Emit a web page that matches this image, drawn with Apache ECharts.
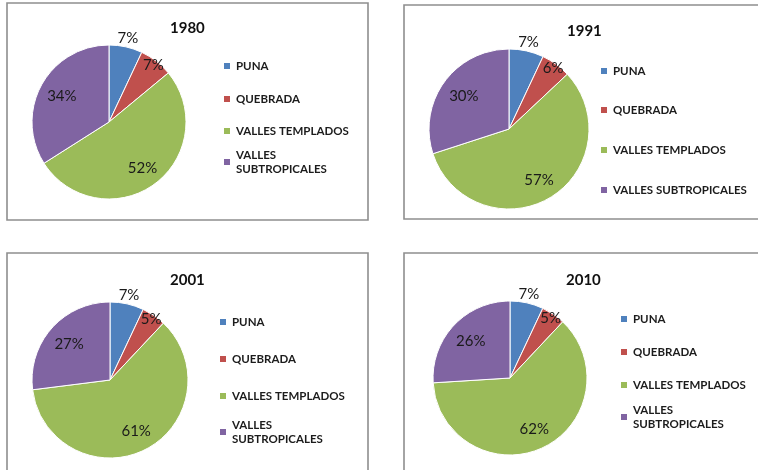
<!DOCTYPE html>
<html>
<head>
<meta charset="utf-8">
<script src="https://cdn.jsdelivr.net/npm/echarts@6/dist/echarts.min.js"></script>
<style>
html,body{margin:0;padding:0;background:#fff;}
#chart{width:758px;height:470px;}
</style>
</head>
<body>
<div id="chart"></div>
<script>
// ---- data ----
const categories = ['PUNA', 'QUEBRADA', 'VALLES TEMPLADOS', 'VALLES SUBTROPICALES'];
const years = ['1980', '1991', '2001', '2010'];
const values1980 = [7, 7, 52, 34];
const values1991 = [7, 6, 57, 30];
const values2001 = [7, 5, 61, 27];
const values2010 = [7, 5, 62, 26];
const allValues = [values1980, values1991, values2001, values2010];

// ---- styling / layout ----
const colors = ['#4F81BD', '#C0504D', '#9BBB59', '#8064A2'];
const FONT = 'Lato, "Open Sans", sans-serif';
const panels = [
  {cx: 109, cy: 122, r: 77, title: [170, 21], legX: 222, legY: [66, 99, 131, 162], wrap: true,
   box: [7, 3, 361, 217]},
  {cx: 509, cy: 129, r: 80, title: [567, 24], legX: 599, legY: [71, 110, 150, 190], wrap: false,
   box: [404, 5, 400, 214]},
  {cx: 110, cy: 380, r: 78, title: [170, 273], legX: 218, legY: [322, 359, 396, 432], wrap: true,
   box: [7, 253, 361, 260]},
  {cx: 510, cy: 378, r: 77, title: [566, 273], legX: 619, legY: [319, 352, 385, 417], wrap: true,
   box: [404, 253, 400, 260]}
];
// radial position (fraction of radius) of each category's percentage label
const labelRadius = [1.08, 0.9, 0.7, 0.66];

const series = [];
const titles = [];
const legends = [];
const graphics = [];

panels.forEach((p, i) => {
  const vals = allValues[i];
  series.push({
    type: 'pie', center: [p.cx, p.cy], radius: p.r, startAngle: 90, clockwise: true,
    silent: true, animation: false, avoidLabelOverlap: false,
    label: {show: false}, labelLine: {show: false},
    itemStyle: {borderColor: '#ffffff', borderWidth: 1},
    data: categories.map((c, k) => ({name: c, value: vals[k], itemStyle: {color: colors[k]}}))
  });
  titles.push({
    text: years[i], left: p.title[0], top: p.title[1], padding: 0,
    textStyle: {fontFamily: FONT, fontWeight: 'bold', fontSize: 15, color: '#111'}
  });
  graphics.push({
    type: 'rect', shape: {x: p.box[0], y: p.box[1], width: p.box[2], height: p.box[3]},
    style: {fill: null, stroke: '#8e8e8e', lineWidth: 1.6}, silent: true
  });
  categories.forEach((c, k) => {
    const twoLine = p.wrap && k === 3;
    legends.push({
      data: [c], orient: 'vertical', left: p.legX,
      top: p.legY[k] - (twoLine ? 21 : 7), padding: 0,
      itemWidth: 8, itemHeight: 8, icon: 'rect', selectedMode: false,
      formatter: twoLine ? () => 'VALLES\nSUBTROPICALES' : undefined,
      textStyle: {fontFamily: FONT, fontWeight: 'bold', fontSize: 11.5, color: '#1c1c1c',
        lineHeight: 14, padding: twoLine ? [14, 0, 0, 0] : 0}
    });
  });
});

// transparent label carriers: same data, labels placed at chosen radial fraction
panels.forEach((p, i) => {
  const vals = allValues[i];
  categories.forEach((c, k) => {
    const mid = labelRadius[k] * p.r;
    series.push({
      type: 'pie', center: [p.cx, p.cy], radius: [mid - 15, mid + 15], startAngle: 90, clockwise: true,
      silent: true, animation: false, avoidLabelOverlap: false, legendHoverLink: false,
      labelLine: {show: false},
      itemStyle: {color: 'rgba(0,0,0,0)', borderWidth: 0},
      label: {show: true, position: 'inside', fontFamily: FONT, fontSize: 15, color: '#1a1a1a',
        formatter: (d) => Math.round(d.percent) + '%'},
      data: categories.map((cc, kk) => ({
        name: cc, value: vals[kk],
        itemStyle: {color: 'rgba(0,0,0,0)'},
        label: {show: kk === k}
      }))
    });
  });
});

const chart = echarts.init(document.getElementById('chart'), null, {renderer: 'canvas'});
chart.setOption({
  backgroundColor: '#ffffff',
  animation: false,
  title: titles,
  legend: legends,
  graphic: graphics,
  series: series
});
</script>
</body>
</html>
